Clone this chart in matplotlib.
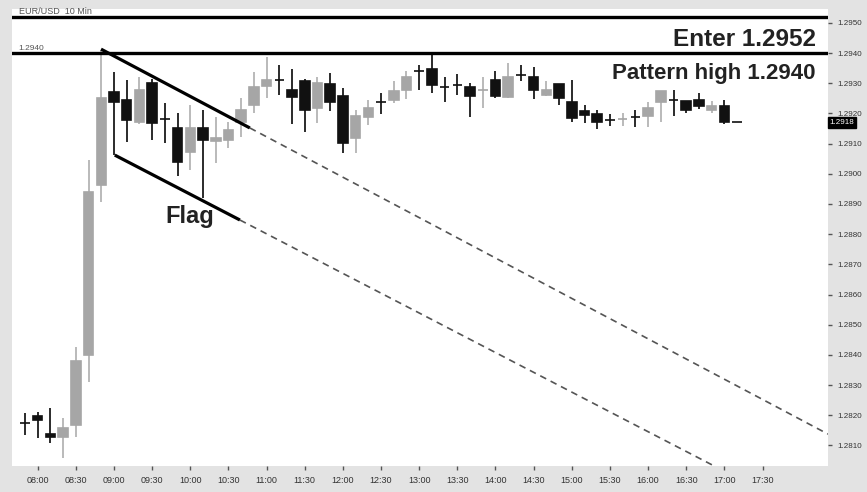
import matplotlib
matplotlib.use('Agg')
import matplotlib.pyplot as plt
import matplotlib.transforms as mtransforms

plt.rcParams['font.family'] = ['Liberation Sans', 'DejaVu Sans']

# EUR/USD 10 min candles
times = ['07:50', '08:00', '08:10', '08:20', '08:30', '08:40', '08:50',
         '09:00', '09:10', '09:20', '09:30', '09:40', '09:50',
         '10:00', '10:10', '10:20', '10:30', '10:40', '10:50',
         '11:00', '11:10', '11:20', '11:30', '11:40', '11:50',
         '12:00', '12:10', '12:20', '12:30', '12:40', '12:50',
         '13:00', '13:10', '13:20', '13:30', '13:40', '13:50',
         '14:00', '14:10', '14:20', '14:30', '14:40', '14:50',
         '15:00', '15:10', '15:20', '15:30', '15:40', '15:50',
         '16:00', '16:10', '16:20', '16:30', '16:40', '16:50',
         '17:00', '17:10']
opens = [1.28175, 1.28198, 1.28138, 1.28128, 1.28168, 1.28400, 1.28963,
         1.29271, 1.29244, 1.29172, 1.29301, 1.29181, 1.29152,
         1.29072, 1.29152, 1.29109, 1.29112, 1.29172, 1.29228,
         1.29291, 1.29311, 1.29277, 1.29307, 1.29218, 1.29297,
         1.29258, 1.29119, 1.29188, 1.29238, 1.29244, 1.29277,
         1.29340, 1.29347, 1.29287, 1.29294, 1.29287, 1.29277,
         1.29311, 1.29254, 1.29327, 1.29321, 1.29261, 1.29297,
         1.29238, 1.29208, 1.29198, 1.29178, 1.29181, 1.29188,
         1.29191, 1.29238, 1.29244, 1.29241, 1.29244, 1.29211,
         1.29225, 1.29172]
highs = [1.28208, 1.28211, 1.28225, 1.28191, 1.28426, 1.29046, 1.29410,
         1.29337, 1.29311, 1.29321, 1.29314, 1.29234, 1.29201,
         1.29228, 1.29211, 1.29188, 1.29172, 1.29251, 1.29337,
         1.29387, 1.29360, 1.29347, 1.29314, 1.29321, 1.29334,
         1.29284, 1.29211, 1.29244, 1.29268, 1.29307, 1.29340,
         1.29360, 1.29393, 1.29321, 1.29330, 1.29301, 1.29321,
         1.29340, 1.29367, 1.29360, 1.29354, 1.29307, 1.29297,
         1.29311, 1.29228, 1.29211, 1.29198, 1.29201, 1.29211,
         1.29238, 1.29274, 1.29277, 1.29241, 1.29268, 1.29241,
         1.29244, 1.29172]
lows = [1.28135, 1.28125, 1.28109, 1.28059, 1.28128, 1.28311, 1.28907,
        1.29062, 1.29105, 1.29165, 1.29112, 1.29102, 1.28993,
        1.29013, 1.28920, 1.29036, 1.29085, 1.29122, 1.29201,
        1.29251, 1.29261, 1.29165, 1.29138, 1.29168, 1.29208,
        1.29069, 1.29069, 1.29162, 1.29198, 1.29234, 1.29248,
        1.29277, 1.29268, 1.29238, 1.29261, 1.29188, 1.29218,
        1.29251, 1.29251, 1.29307, 1.29248, 1.29258, 1.29228,
        1.29172, 1.29168, 1.29148, 1.29158, 1.29158, 1.29155,
        1.29155, 1.29172, 1.29191, 1.29201, 1.29215, 1.29201,
        1.29165, 1.29172]
closes = [1.28175, 1.28185, 1.28128, 1.28158, 1.28380, 1.28940, 1.29251,
          1.29238, 1.29178, 1.29277, 1.29168, 1.29181, 1.29039,
          1.29152, 1.29112, 1.29119, 1.29145, 1.29211, 1.29287,
          1.29311, 1.29311, 1.29254, 1.29211, 1.29301, 1.29238,
          1.29102, 1.29191, 1.29218, 1.29238, 1.29274, 1.29321,
          1.29340, 1.29294, 1.29287, 1.29294, 1.29258, 1.29279,
          1.29258, 1.29321, 1.29327, 1.29277, 1.29277, 1.29251,
          1.29185, 1.29195, 1.29172, 1.29178, 1.29183, 1.29188,
          1.29218, 1.29274, 1.29244, 1.29211, 1.29225, 1.29225,
          1.29172, 1.29172]

enter_level = 1.2952
pattern_high = 1.2940
last_price = 1.2917

# flag boundaries (hours, price): solid part, then projected dashed
upper_flag = [(8.83, 1.29413), (10.78, 1.29152)]
lower_flag = [(9.01, 1.29062), (10.65, 1.28847)]

xtick_labels = ['08:00', '08:30', '09:00', '09:30', '10:00', '10:30', '11:00',
                '11:30', '12:00', '12:30', '13:00', '13:30', '14:00', '14:30',
                '15:00', '15:30', '16:00', '16:30', '17:00', '17:30']
ytick_values = [1.2810, 1.2820, 1.2830, 1.2840, 1.2850, 1.2860, 1.2870, 1.2880,
                1.2890, 1.2900, 1.2910, 1.2920, 1.2930, 1.2940, 1.2950]


def to_hours(s):
    h, m = s.split(':')
    return int(h) + int(m) / 60


x = [to_hours(t) for t in times]

fig = plt.figure(figsize=(8.67, 4.92), dpi=100, facecolor='#e3e3e3')
ax = fig.add_axes([12 / 867, 26 / 492, 816 / 867, 457 / 492])
ax.set_facecolor('white')
for s in ax.spines.values():
    s.set_visible(False)
blend = mtransforms.blended_transform_factory(ax.transAxes, ax.transData)

xmin, xmax = 7.663, 18.358
ax.set_xlim(xmin, xmax)
ax.set_ylim(1.28032, 1.29546)

# candles
bw = 0.125
for xi, o, h, l, c in zip(x, opens, highs, lows, closes):
    if c > o:
        body_col, wick_col = '#a6a6a6', '#b4b4b4'
    else:
        body_col, wick_col = '#111111', '#1a1a1a'
    ax.vlines(xi, l, h, color=wick_col, lw=1.3, zorder=2)
    ax.bar(xi, c - o, bottom=o, width=bw, color=body_col,
           edgecolor=body_col, lw=1.2, zorder=3)

# horizontal levels
ax.axhline(enter_level, color='black', lw=2.4, zorder=4)
ax.axhline(pattern_high, color='black', lw=2.4, zorder=4)


def slope(p):
    return (p[1][1] - p[0][1]) / (p[1][0] - p[0][0])


# flag lines
for line in (upper_flag, lower_flag):
    (x0, y0), (x1, y1) = line
    ax.plot([x0, x1], [y0, y1], color='black', lw=2.3, zorder=5,
            solid_capstyle='butt')
    m = slope(line)
    ax.plot([x1, xmax], [y1, y1 + m * (xmax - x1)], color='#555555',
            lw=1.2, dashes=(4, 3), zorder=1)

# annotations
ax.text(0.985, 1.29445, 'Enter 1.2952', ha='right', va='center',
        fontsize=17.5, fontweight='bold', color='#222222', transform=blend)
ax.text(0.985, 1.29333, 'Pattern high 1.2940', ha='right', va='center',
        fontsize=16, fontweight='bold', color='#222222', transform=blend)
ax.text(9.99, 1.28860, 'Flag', ha='center', va='center', fontsize=17,
        fontweight='bold', color='#222222')
ax.text(0.008, enter_level + 0.00004, 'EUR/USD  10 Min', ha='left', va='bottom',
        fontsize=6.5, color='#555555', transform=blend)
ax.text(0.008, pattern_high + 0.00004, '1.2940', ha='left', va='bottom',
        fontsize=6, color='#555555', transform=blend)

# axes
ax.set_xticks([8 + 0.5 * i for i in range(len(xtick_labels))])
ax.set_xticklabels(xtick_labels)
ax.yaxis.tick_right()
ax.set_yticks(ytick_values)
ax.set_yticklabels(['%.4f' % v for v in ytick_values])
ax.tick_params(axis='x', length=3, width=1, color='#555555', labelsize=6.5,
               labelcolor='#333333', pad=4)
ax.tick_params(axis='y', length=3, width=1, color='#555555', labelsize=5.8,
               labelcolor='#333333', pad=4)

# current price box
ax.text(1.002, last_price, '1.2918', ha='left', va='center', fontsize=5.8,
        color='white', zorder=10, clip_on=False,
        bbox=dict(boxstyle='square,pad=0.25', fc='black', ec='black'),
        transform=blend)

fig.savefig('out.png', dpi=100, facecolor=fig.get_facecolor())
